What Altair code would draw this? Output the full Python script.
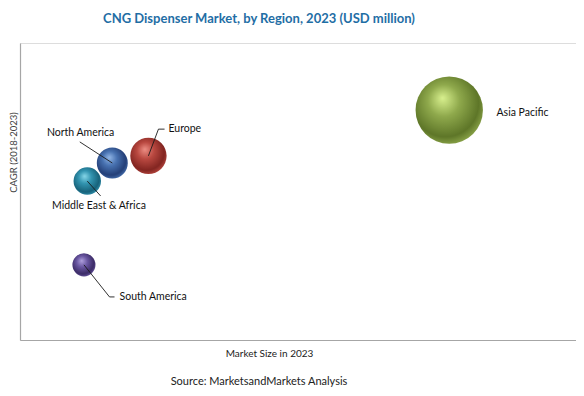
import altair as alt
import pandas as pd

# ---- data ----
regions = ["Asia Pacific", "Europe", "North America", "Middle East & Africa", "South America"]
market_size = [77.2, 23.1, 16.6, 12.1, 11.5]
cagr = [77.4, 62.0, 59.6, 53.5, 25.3]
bubble = [4540, 1320, 960, 755, 531]

# gradient stops per region: highlight, mid, edge
grad_colors = {
    "Asia Pacific": ["#D8F08E", "#8FA94C", "#5E7628"],
    "Europe": ["#EC8E84", "#B94840", "#822521"],
    "North America": ["#92B6E6", "#4771B0", "#243F77"],
    "Middle East & Africa": ["#86D6E8", "#3294B0", "#17627A"],
    "South America": ["#AE9FDC", "#6A57A2", "#3B2B66"],
}

# label anchors (data units)
label_x = [85.7, 26.7, 10.9, 14.2, 17.9]
label_y = [76.4, 71.0, 69.7, 45.1, 14.5]
label_align = ["left", "left", "center", "center", "left"]

# leader lines (data units)
leader_region = ["Europe", "Europe", "Europe",
                 "North America", "North America",
                 "Middle East & Africa", "Middle East & Africa",
                 "South America", "South America", "South America"]
leader_order = [0, 1, 2, 0, 1, 0, 1, 0, 1, 2]
leader_x = [23.1, 24.9, 26.0, 16.6, 10.75, 12.1, 14.5, 11.5, 16.1, 17.0]
leader_y = [62.0, 71.0, 71.0, 59.6, 66.7, 53.5, 48.5, 25.3, 14.5, 14.5]

df = pd.DataFrame({"region": regions, "size": market_size, "cagr": cagr, "bubble": bubble})
labels = pd.DataFrame({"region": regions, "lx": label_x, "ly": label_y, "align": label_align})
leaders = pd.DataFrame({"region": leader_region, "o": leader_order, "x": leader_x, "y": leader_y})

FONT = "Lato"
W, H = 556, 297

xs = alt.Scale(domain=[0, 100], nice=False, zero=True)
ys = alt.Scale(domain=[0, 100], nice=False, zero=True)

x_enc = alt.X("size:Q", scale=xs,
              axis=alt.Axis(title="Market Size in 2023", labels=False, ticks=False, grid=False,
                            domainColor="#A6A6A6", domainWidth=1.2, titleFont=FONT, titleFontSize=10,
                            titleFontWeight="normal", titleColor="#222222", titlePadding=8,
                            titleX=249))
y_enc = alt.Y("cagr:Q", scale=ys,
              axis=alt.Axis(title="CAGR (2018-2023)", labels=False, ticks=False, grid=False,
                            domainColor="#A6A6A6", domainWidth=1.2, titleFont=FONT, titleFontSize=9.5,
                            titleFontWeight="normal", titleColor="#444444", titleBaseline="middle",
                            titleX=-7, titleY=109))

layers = []
for r in regions:
    c = grad_colors[r]
    grad = alt.RadialGradient(
        gradient="radial",
        x1=0.4, y1=0.32, r1=0.0,
        x2=0.45, y2=0.42, r2=0.62,
        stops=[alt.GradientStop(offset=0, color=c[0]),
               alt.GradientStop(offset=0.38, color=c[1]),
               alt.GradientStop(offset=0.8, color=c[2]),
               alt.GradientStop(offset=1, color=c[1])],
    )
    layers.append(
        alt.Chart(df).transform_filter(alt.datum.region == r)
        .mark_circle(color=grad, opacity=1)
        .encode(x=x_enc, y=y_enc,
                size=alt.Size("bubble:Q", scale=alt.Scale(domain=[0, 4540], range=[0, 4540]), legend=None))
    )

lines = alt.Chart(leaders).mark_line(color="#1A1A1A", strokeWidth=0.9).encode(
    x=alt.X("x:Q", scale=xs), y=alt.Y("y:Q", scale=ys), detail="region:N", order="o:Q"
)

text_left = alt.Chart(labels).transform_filter(alt.datum.align == "left").mark_text(
    align="left", baseline="middle", font=FONT, fontSize=10.5, color="#111111"
).encode(x=alt.X("lx:Q", scale=xs), y=alt.Y("ly:Q", scale=ys), text="region:N")

text_center = alt.Chart(labels).transform_filter(alt.datum.align == "center").mark_text(
    align="center", baseline="middle", font=FONT, fontSize=10.5, color="#111111"
).encode(x=alt.X("lx:Q", scale=xs), y=alt.Y("ly:Q", scale=ys), text="region:N")

source = alt.Chart(pd.DataFrame({"t": ["Source: MarketsandMarkets Analysis"]})).mark_text(
    align="center", baseline="middle", font=FONT, fontSize=11, color="#222222"
).encode(x=alt.value(239), y=alt.value(339), text="t:N")

chart = alt.layer(*layers, lines, text_left, text_center, source).properties(
    width=W, height=H,
    title=alt.TitleParams(
        "CNG Dispenser Market, by Region, 2023 (USD million)",
        font=FONT, fontSize=13, fontWeight="bold", color="#1F6EA5",
        anchor="middle", dx=-39, offset=17,
    ),
    autosize=alt.AutoSizeParams(type="none"),
    padding={"left": 12, "top": 35, "right": 0, "bottom": 50},
).configure_view(stroke=None).configure(background="white")

chart.save("out.html", embed_options={"renderer": "svg", "actions": False})
